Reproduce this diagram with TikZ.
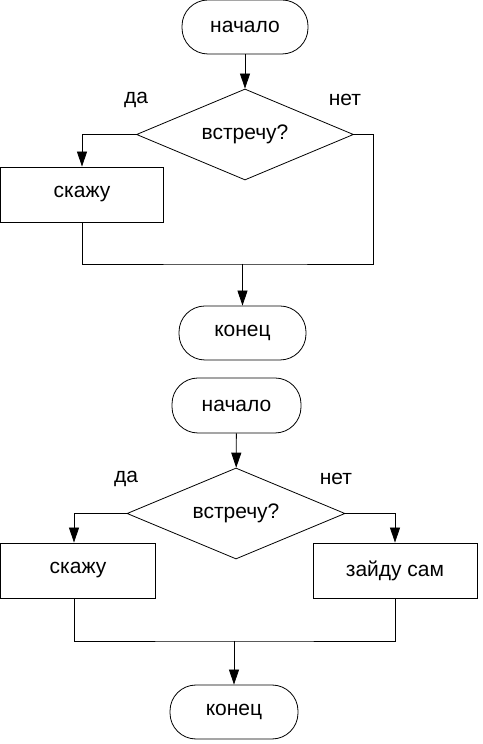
\documentclass[tikz,border=0pt]{standalone}
\usepackage{fontspec}
\setmainfont{Liberation Sans}
\usepackage{tikz}
\usetikzlibrary{shapes.geometric,arrows.meta}

\tikzset{
  term/.style={draw,rectangle,rounded corners=26pt,inner sep=0pt},
  act/.style={draw,rectangle,inner sep=0pt,minimum height=55pt},
  cond/.style={draw,diamond,aspect=2.4,inner sep=0pt,minimum width=217pt,minimum height=91pt}
}

\begin{document}
\begin{tikzpicture}[auto,node distance=2cm,x=1pt,y=1pt,line width=0.8pt,
    >={Triangle[length=15pt,width=10pt]},font=\fontsize{21}{25}\selectfont]
    \useasboundingbox (0,0) rectangle (482,744);

    % first chart
    \node[term,minimum width=126pt,minimum height=54pt] (beg1) at (245,717) {начало};
    \node[cond] (q1) at (245,609.5) {встречу?};
    \node (yes1) at (136,644) {да};
    \node (no1) at (345,644) {нет};
    \node[act,minimum width=163pt] (say1) at (82,549.5) {скажу};
    \node[term,minimum width=127pt,minimum height=54pt] (end1) at (242.5,411) {конец};
    \coordinate (m1) at (242.5,480);
    \coordinate (r1) at (373,609.5);

    \path[draw,->] (beg1) edge (q1);
    \draw[->] (q1.west) -| (say1.north);
    \draw (say1.south) |- (m1) -| (r1) -- (q1.east);
    \draw[->] (m1) -- (end1);

    % second chart
    \node[term,minimum width=129pt,minimum height=55pt] (beg2) at (236.5,338.5) {начало};
    \node[cond,minimum width=218pt] (q2) at (236,230.5) {встречу?};
    \node (yes2) at (126,265) {да};
    \node (no2) at (336,265) {нет};
    \node[act,minimum width=155pt] (say2) at (78,173.5) {скажу};
    \node[act,minimum width=164pt] (go2) at (395,173.5) {зайду сам};
    \node[term,minimum width=128pt,minimum height=54pt] (end2) at (234,32) {конец};
    \coordinate (m2) at (234,103);

    \path[draw,->] (beg2) edge (q2);
    \draw[->] (q2.west) -| ([xshift=-4pt]say2.north);
    \draw[->] (q2.east) -| (go2.north);
    \draw ([xshift=-4pt]say2.south) |- (m2) -| (go2.south);
    \draw[->] (m2) -- (end2);
\end{tikzpicture}
\end{document}
